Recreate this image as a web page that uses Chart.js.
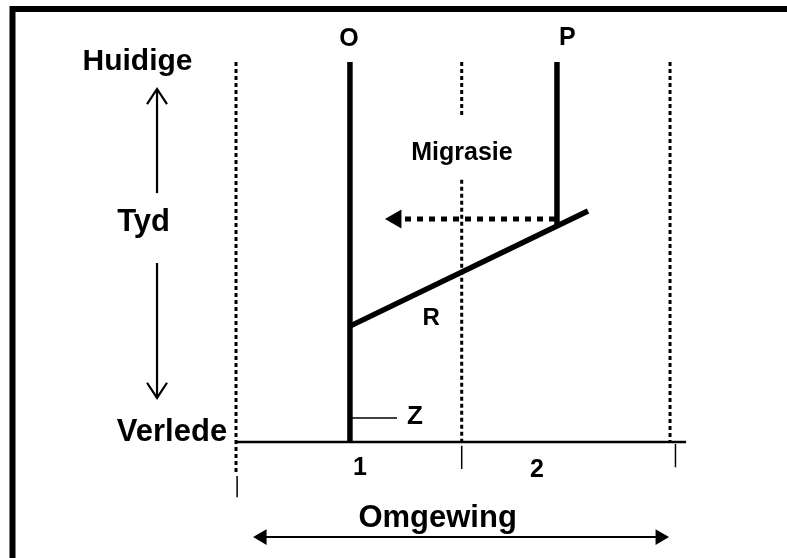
<!DOCTYPE html>
<html>
<head>
<meta charset="utf-8">
<script src="https://cdn.jsdelivr.net/npm/chart.js@4/dist/chart.umd.min.js"></script>
<style>
  html, body { margin: 0; padding: 0; background: #fff; }
  #wrap { width: 787px; height: 558px; }
</style>
</head>
<body>
<div id="wrap"><canvas id="c" width="787" height="558"></canvas></div>
<script>
// ---- Data (x = Omgewing / environment units, y = Tyd / time units: 0 = Verlede, 1 = Huidige) ----
const envBoundaries = [0, 1.04, 2.0];               // dotted environment boundaries
const boundaryTop = [1.0, 1.0, 1.0];
const boundaryBottom = [-0.08, 0, 0];
const migrasieGap = [0.69, 0.86];                   // gap in middle boundary for the label
const lineageO = { x: 0.525, from: 0, to: 1.0 };
const lineageP = { x: 1.479, from: 0.567, to: 1.0 };
const lineageR = [{ x: 0.525, y: 0.305 }, { x: 1.622, y: 0.608 }];
const migration = { y: 0.587, from: 1.47, to: 0.77, head: 0.737 };
const zMark = { y: 0.063, from: 0.525, to: 0.742 };
const baseline = { y: 0, from: 0, to: 2.074 };
const envTicks = [{ x: 0.005, top: -0.089, bottom: -0.145 }, { x: 1.04, top: -0.01, bottom: -0.071 }, { x: 2.025, top: -0.005, bottom: -0.066 }];
const timeArrow = { x: -0.364, upFrom: 0.655, upTip: 0.929, downFrom: 0.471, downTip: 0.116 };
const envArrow = { y: -0.25, from: 0.12, to: 1.954 };
const labels = [
  { text: 'O', x: 0.521, y: 1.06, size: 25 },
  { text: 'P', x: 1.527, y: 1.063, size: 25 },
  { text: 'Huidige', x: -0.454, y: 1.0, size: 30 },
  { text: 'Tyd', x: -0.426, y: 0.579, size: 31 },
  { text: 'Verlede', x: -0.295, y: 0.026, size: 31 },
  { text: 'Migrasie', x: 1.041, y: 0.76, size: 25 },
  { text: 'R', x: 0.899, y: 0.326, size: 24 },
  { text: 'Z', x: 0.825, y: 0.066, size: 26 },
  { text: '1', x: 0.571, y: -0.068, size: 25 },
  { text: '2', x: 1.387, y: -0.074, size: 25 },
  { text: 'Omgewing', x: 0.929, y: -0.2, size: 31 }
];

// ---- Build datasets ----
const BLACK = '#000';
function seg(points, width, dash) {
  return { type: 'line', data: points, borderColor: BLACK, backgroundColor: BLACK, borderWidth: width,
           borderDash: dash || [], borderCapStyle: 'butt', pointRadius: 0, showLine: true, fill: false, tension: 0 };
}
const ds = [];
// dotted boundaries
envBoundaries.forEach((bx, i) => {
  if (i === 1) {
    ds.push(seg([{ x: bx, y: boundaryTop[i] }, { x: bx, y: migrasieGap[1] }], 3, [4, 3]));
    ds.push(seg([{ x: bx, y: migrasieGap[0] }, { x: bx, y: boundaryBottom[i] }], 3, [4, 3]));
  } else {
    ds.push(seg([{ x: bx, y: boundaryTop[i] }, { x: bx, y: boundaryBottom[i] }], 3, [4, 3]));
  }
});
// baseline
ds.push(seg([{ x: baseline.from, y: baseline.y }, { x: baseline.to, y: baseline.y }], 2.5));
// env ticks
envTicks.forEach(t => ds.push(seg([{ x: t.x, y: t.top }, { x: t.x, y: t.bottom }], 1.5)));
// lineages
ds.push(seg([{ x: lineageO.x, y: lineageO.from }, { x: lineageO.x, y: lineageO.to }], 5.5));
ds.push(seg([{ x: lineageP.x, y: lineageP.from }, { x: lineageP.x, y: lineageP.to }], 5.5));
ds.push(seg(lineageR, 5.5));
// Z mark
ds.push(seg([{ x: zMark.from, y: zMark.y }, { x: zMark.to, y: zMark.y }], 1.5));
// migration arrow
ds.push(seg([{ x: migration.from, y: migration.y }, { x: migration.to, y: migration.y }], 5, [6, 6]));
ds.push({ type: 'scatter', data: [{ x: migration.head, y: migration.y }], pointStyle: 'triangle', pointRotation: -90,
          pointRadius: 11, backgroundColor: BLACK, borderColor: BLACK, borderWidth: 0 });
// time arrow (open chevrons)
const wingX = 0.046, wingY = 0.04;
ds.push(seg([{ x: timeArrow.x, y: timeArrow.upFrom }, { x: timeArrow.x, y: timeArrow.upTip }], 2.2));
ds.push(seg([{ x: timeArrow.x - wingX, y: timeArrow.upTip - wingY }, { x: timeArrow.x, y: timeArrow.upTip }, { x: timeArrow.x + wingX, y: timeArrow.upTip - wingY }], 2.2));
ds.push(seg([{ x: timeArrow.x, y: timeArrow.downFrom }, { x: timeArrow.x, y: timeArrow.downTip }], 2.2));
ds.push(seg([{ x: timeArrow.x - wingX, y: timeArrow.downTip + wingY }, { x: timeArrow.x, y: timeArrow.downTip }, { x: timeArrow.x + wingX, y: timeArrow.downTip + wingY }], 2.2));
// environment arrow
ds.push(seg([{ x: envArrow.from, y: envArrow.y }, { x: envArrow.to, y: envArrow.y }], 2));
ds.push({ type: 'scatter', data: [{ x: envArrow.from, y: envArrow.y }], pointStyle: 'triangle', pointRotation: -90,
          pointRadius: 9, backgroundColor: BLACK, borderColor: BLACK, borderWidth: 0 });
ds.push({ type: 'scatter', data: [{ x: envArrow.to, y: envArrow.y }], pointStyle: 'triangle', pointRotation: 90,
          pointRadius: 9, backgroundColor: BLACK, borderColor: BLACK, borderWidth: 0 });

// ---- Plugins ----
const framePlugin = {
  id: 'frame',
  beforeDraw(chart) {
    const ctx = chart.ctx;
    ctx.save();
    ctx.fillStyle = '#fff';
    ctx.fillRect(0, 0, chart.width, chart.height);
    ctx.strokeStyle = BLACK;
    ctx.lineWidth = 6;
    ctx.strokeRect(12.5, 9, chart.width + 20, chart.height + 20);
    ctx.restore();
  }
};
const textPlugin = {
  id: 'texts',
  afterDatasetsDraw(chart) {
    const ctx = chart.ctx, sx = chart.scales.x, sy = chart.scales.y;
    ctx.save();
    ctx.fillStyle = BLACK;
    ctx.textAlign = 'center';
    ctx.textBaseline = 'middle';
    labels.forEach(l => {
      ctx.font = 'bold ' + l.size + 'px "Liberation Sans", Arial, sans-serif';
      ctx.fillText(l.text, sx.getPixelForValue(l.x), sy.getPixelForValue(l.y));
    });
    ctx.restore();
  }
};

new Chart(document.getElementById('c'), {
  type: 'scatter',
  data: { datasets: ds },
  options: {
    responsive: false,
    animation: false,
    layout: { padding: 0, autoPadding: false },
    scales: {
      x: { type: 'linear', display: false, min: -1.0876, max: 2.539 },
      y: { type: 'linear', display: false, min: -0.305, max: 1.163 }
    },
    plugins: { legend: { display: false }, tooltip: { enabled: false } }
  },
  plugins: [framePlugin, textPlugin]
});
</script>
</body>
</html>
